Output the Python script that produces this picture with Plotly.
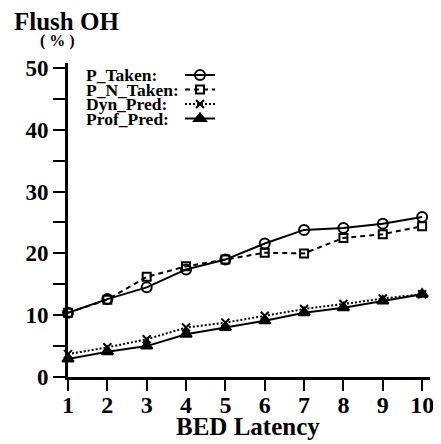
import plotly.graph_objects as go

latency = [1, 2, 3, 4, 5, 6, 7, 8, 9, 10]
p_taken = [10.4, 12.6, 14.5, 17.4, 19.0, 21.6, 23.8, 24.1, 24.8, 25.9]
p_n_taken = [10.4, 12.5, 16.2, 17.9, 19.0, 20.1, 20.0, 22.5, 23.1, 24.4]
dyn_pred = [3.7, 4.8, 6.1, 8.0, 8.8, 9.9, 11.0, 11.8, 12.7, 13.4]
prof_pred = [2.9, 4.1, 5.0, 6.9, 8.0, 9.1, 10.4, 11.2, 12.3, 13.4]
series_names = ["P_Taken:", "P_N_Taken:", "Dyn_Pred:", "Prof_Pred:"]
y_tickvals = [0, 5, 10, 15, 20, 25, 30, 35, 40, 45, 50]
y_ticktext = ["0", "", "10", "", "20", "", "30", "", "40", "", "50"]

# The page body has an 8px default margin; the figure is sized to fit inside it.
OFF = 8
W, H = 441 - OFF, 444 - OFF
# plot area in page pixels: x 68..430, y 63..377
L, R, T, B = 68 - OFF, W - (430 - OFF), 63 - OFF, H - (377 - OFF)
pw, ph = W - L - R, H - T - B

def px(x):
    return (x - OFF - L) / pw

def py(y):
    return 1 - (y - OFF - T) / ph

FONT = "Liberation Serif"
row_y = [75, 89.5, 104, 118.5]

fig = go.Figure()
styles = [
    dict(dash="solid", symbol="circle-open", size=10),
    dict(dash="5px,4px", symbol="square-open", size=8),
    dict(dash="2px,2px", symbol="x-thin-open", size=8),
    dict(dash="solid", symbol="triangle-up", size=10),
]
legend_ids = ["legend", "legend2", "legend3", "legend4"]
for vals, st, lid in zip([p_taken, p_n_taken, dyn_pred, prof_pred], styles, legend_ids):
    fig.add_trace(go.Scatter(
        x=latency, y=vals, mode="lines+markers", name=" ", legend=lid,
        line=dict(color="black", width=2, dash=st["dash"]),
        marker=dict(symbol=st["symbol"], size=st["size"], color="black",
                    line=dict(color="black", width=2)),
        cliponaxis=False,
    ))

annotations = [
    dict(text="<b>Flush OH</b>", x=px(13), y=py(21), xref="paper", yref="paper",
         xanchor="left", yanchor="middle", showarrow=False, borderpad=0,
         font=dict(family=FONT, size=25, color="black")),
    dict(text="<b>(&nbsp;%&nbsp;)</b>", x=px(38), y=py(41), xref="paper", yref="paper",
         xanchor="left", yanchor="middle", showarrow=False,
         font=dict(family=FONT, size=16, color="black")),
    dict(text="<b>BED Latency</b>", x=px(248), y=py(426), xref="paper", yref="paper",
         xanchor="center", yanchor="middle", showarrow=False,
         font=dict(family=FONT, size=25, color="black")),
]
for i, name in enumerate(series_names):
    annotations.append(dict(
        text="<b>" + name + "</b>", x=px(84), y=py(row_y[i]), xref="paper", yref="paper",
        xanchor="left", yanchor="middle", showarrow=False,
        font=dict(family=FONT, size=17.5, color="black")))

layout = dict(
    width=W, height=H,
    margin=dict(l=L, r=R, t=T, b=B, autoexpand=False),
    paper_bgcolor="white", plot_bgcolor="white",
    font=dict(family=FONT, size=23, color="black"),
    showlegend=True,
    annotations=annotations,
    xaxis=dict(range=[1, 10.2], tickvals=latency, ticks="outside", ticklen=11,
               tickwidth=2, tickcolor="black", showline=True, linewidth=3,
               linecolor="black", showgrid=False, zeroline=False,
               automargin=False, ticklabelstandoff=-7,
               tickfont=dict(family=FONT, size=24, weight="bold")),
    yaxis=dict(range=[0, 50.8], tickvals=y_tickvals, ticktext=y_ticktext,
               ticks="outside", ticklen=12, tickwidth=2, tickcolor="black",
               showline=True, linewidth=3, linecolor="black", showgrid=False,
               zeroline=False, automargin=False,
               tickfont=dict(family=FONT, size=23, weight="bold")),
)
for i, lid in enumerate(legend_ids):
    layout[lid] = dict(x=px(180), y=py(row_y[i]), xanchor="left", yanchor="middle",
                       bgcolor="rgba(0,0,0,0)", font=dict(size=8), itemwidth=30)
fig.update_layout(**layout)

fig.write_html("out.html")
